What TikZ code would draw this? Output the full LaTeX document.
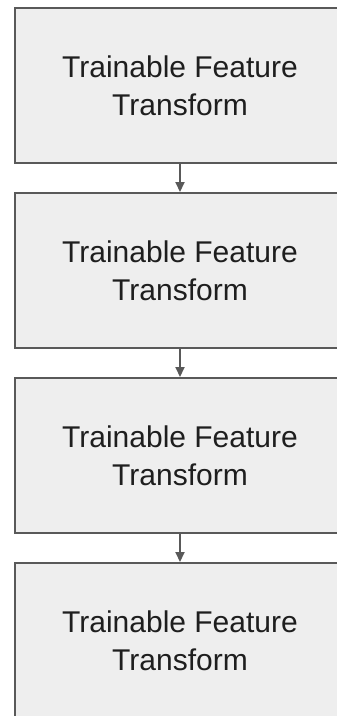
\documentclass[tikz,border=0pt]{standalone}
\usepackage{fontspec}
\setmainfont{Liberation Sans}
\usetikzlibrary{arrows.meta}
\definecolor{boxfill}{HTML}{EEEEEE}
\definecolor{boxline}{HTML}{595959}
\definecolor{txt}{HTML}{1E1E1E}
\tikzset{
  stagebox/.style={draw=boxline, fill=boxfill, line width=2pt, rectangle,
    minimum width=330pt, minimum height=155pt, inner sep=0pt, align=center,
    text=txt, font=\fontsize{30}{38}\selectfont},
  flow/.style={draw=boxline, line width=2pt, -{Triangle[length=10pt,width=9pt]}}
}
\begin{document}
\begin{tikzpicture}[x=1pt,y=-1pt]
\useasboundingbox (0,0) rectangle (337,716);
\clip (0,0) rectangle (337,716);
\fill[white] (0,0) rectangle (337,716);
\node[stagebox] (b1) at (180,85.5) {Trainable Feature\\Transform};
\node[stagebox] (b2) at (180,270.5) {Trainable Feature\\Transform};
\node[stagebox] (b3) at (180,455.5) {Trainable Feature\\Transform};
\node[stagebox] (b4) at (180,640.5) {Trainable Feature\\Transform};
\draw[flow] (b1.south) -- (b2.north);
\draw[flow] (b2.south) -- (b3.north);
\draw[flow] (b3.south) -- (b4.north);
\end{tikzpicture}
\end{document}
